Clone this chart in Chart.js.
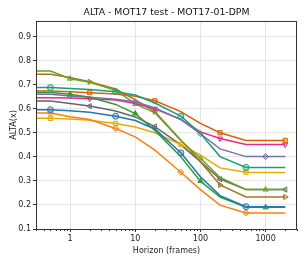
<!DOCTYPE html>
<html lang="en">
<head>
    <meta charset="UTF-8">
    <title>ALTA - MOT17 test - MOT17-01-DPM</title>
    <script src="https://cdn.jsdelivr.net/npm/chart.js"></script>
    <style>
        html, body { margin: 0; padding: 0; background: #fff; }
        #canvas { display: block; }
    </style>
</head>
<body>
<canvas id="canvas" width="305" height="261"></canvas>

<script>
    // horizons (frames); first point sits left of the visible range
    const horizons = [0.25, 0.5, 1, 2, 5, 10, 20, 50, 100, 200, 500, 1000, 2000];
    const xTicks = [1, 10, 100, 1000];
    const yTicks = [0.1, 0.2, 0.3, 0.4, 0.5, 0.6, 0.7, 0.8, 0.9];

    // series values
    const blue    = [0.596, 0.596, 0.592, 0.585, 0.569, 0.551, 0.516, 0.417, 0.317, 0.239, 0.193, 0.193, 0.193];
    const orange  = [0.582, 0.582, 0.567, 0.555, 0.518, 0.483, 0.428, 0.336, 0.264, 0.199, 0.167, 0.167, 0.167];
    const green   = [0.668, 0.668, 0.660, 0.648, 0.618, 0.580, 0.510, 0.400, 0.299, 0.233, 0.190, 0.190, 0.190];
    const teal    = [0.688, 0.688, 0.684, 0.680, 0.671, 0.657, 0.624, 0.569, 0.497, 0.401, 0.356, 0.356, 0.356];
    const rust    = [0.674, 0.674, 0.671, 0.667, 0.661, 0.652, 0.633, 0.588, 0.539, 0.500, 0.468, 0.468, 0.468];
    const purple  = [0.660, 0.660, 0.653, 0.648, 0.640, 0.629, 0.603, 0.555, 0.496, 0.433, 0.401, 0.401, 0.401];
    const magenta = [0.646, 0.646, 0.645, 0.642, 0.636, 0.622, 0.600, 0.556, 0.504, 0.476, 0.451, 0.451, 0.451];
    const lime    = [0.757, 0.757, 0.725, 0.710, 0.677, 0.620, 0.583, 0.468, 0.394, 0.314, 0.264, 0.264, 0.264];
    const brown   = [0.743, 0.743, 0.730, 0.712, 0.682, 0.637, 0.588, 0.470, 0.380, 0.283, 0.233, 0.233, 0.233];
    const gray    = [0.632, 0.632, 0.622, 0.611, 0.591, 0.566, 0.526, 0.450, 0.380, 0.307, 0.264, 0.264, 0.264];
    const gold    = [0.560, 0.560, 0.557, 0.552, 0.539, 0.524, 0.500, 0.451, 0.407, 0.354, 0.336, 0.335, 0.335];

    // which data indices carry a marker
    const marksA = [1, 4, 7, 10];
    const marksB = [2, 5, 8, 11];
    const marksC = [3, 6, 9, 12];

    const series = [
        { data: blue,    color: '#1f77b4', style: 'circle',   rot: 0,   marks: marksA },
        { data: orange,  color: '#ff7f0e', style: 'rectRot',  rot: 0,   marks: marksA },
        { data: green,   color: '#2ca02c', style: 'triangle', rot: 0,   marks: marksB, solid: true },
        { data: teal,    color: '#1b9e77', style: 'circle',   rot: 0,   marks: marksA },
        { data: rust,    color: '#d95f02', style: 'rect',     rot: 0,   marks: marksC },
        { data: purple,  color: '#7570b3', style: 'rectRot',  rot: 0,   marks: marksB },
        { data: magenta, color: '#e7298a', style: 'triangle', rot: 180, marks: marksC },
        { data: lime,    color: '#66a61e', style: 'triangle', rot: 0,   marks: marksB },
        { data: gold,    color: '#e6ab02', style: 'rect',     rot: 0,   marks: marksA },
        { data: brown,   color: '#a6761d', style: 'triangle', rot: 90,  marks: marksC },
        { data: gray,    color: '#666666', style: 'triangle', rot: -90, marks: marksC }
    ];

    function fade(hex, a) {
        const r = parseInt(hex.slice(1, 3), 16);
        const g = parseInt(hex.slice(3, 5), 16);
        const b = parseInt(hex.slice(5, 7), 16);
        return `rgba(${r}, ${g}, ${b}, ${a})`;
    }

    const datasets = series.map(s => ({
        data: horizons.map((x, i) => ({ x: x, y: s.data[i] })),
        borderColor: s.color,
        backgroundColor: s.solid ? s.color : fade(s.color, 0.3),
        borderWidth: 1.5,
        pointStyle: s.style,
        pointRotation: s.rot,
        pointRadius: ctx => s.marks.includes(ctx.dataIndex) ? 3 : 0,
        pointBorderColor: s.color,
        pointBorderWidth: 1,
        tension: 0,
        fill: false
    }));

    // frame round the plot area plus minor ticks on the log axis
    const framePlugin = {
        id: 'frame',
        afterDraw(chart) {
            const { ctx, chartArea: a, scales } = chart;
            ctx.save();
            ctx.strokeStyle = '#333';
            ctx.lineWidth = 1;
            ctx.strokeRect(a.left + 0.5, a.top + 0.5, a.right - a.left - 1, a.bottom - a.top);
            const x = scales.x;
            ctx.beginPath();
            for (let d = 0.1; d < 5000; d *= 10) {
                for (let k = 2; k <= 9; k++) {
                    const v = d * k;
                    if (v < x.min || v > x.max) continue;
                    const px = Math.round(x.getPixelForValue(v)) + 0.5;
                    ctx.moveTo(px, a.bottom);
                    ctx.lineTo(px, a.bottom + 2);
                }
            }
            ctx.stroke();
            ctx.restore();
        }
    };

    Chart.defaults.font.family = '"DejaVu Sans", sans-serif';
    Chart.defaults.color = '#222';

    new Chart(document.getElementById('canvas').getContext('2d'), {
        type: 'line',
        data: { datasets: datasets },
        options: {
            responsive: false,
            animation: false,
            layout: { padding: { left: 0, right: 8, top: 0, bottom: 0 } },
            plugins: {
                legend: { display: false },
                tooltip: { enabled: false },
                title: {
                    display: true,
                    fullSize: false,
                    text: 'ALTA - MOT17 test - MOT17-01-DPM',
                    font: { size: 9.3, weight: 'normal' },
                    color: '#111',
                    padding: { top: 7, bottom: 2.8 }
                }
            },
            scales: {
                x: {
                    type: 'logarithmic',
                    min: 0.33,
                    max: 3030,
                    afterBuildTicks: scale => { scale.ticks = xTicks.map(v => ({ value: v, major: true })); },
                    afterFit: scale => { scale.height = 32; },
                    ticks: {
                        font: { size: 8 },
                        color: '#222',
                        padding: 2,
                        maxRotation: 0,
                        autoSkip: false,
                        callback: v => String(v)
                    },
                    grid: { color: '#e6e6e6', tickColor: '#333', tickLength: 3 },
                    border: { display: false },
                    title: {
                        display: true,
                        text: 'Horizon (frames)',
                        font: { size: 8 },
                        color: '#222',
                        padding: { top: 1, bottom: 5 }
                    }
                },
                y: {
                    type: 'linear',
                    min: 0.1,
                    max: 0.965,
                    afterBuildTicks: scale => { scale.ticks = yTicks.map(v => ({ value: v })); },
                    afterFit: scale => { scale.width = 36; },
                    ticks: {
                        font: { size: 8 },
                        color: '#222',
                        padding: 2,
                        callback: v => v.toFixed(1)
                    },
                    grid: { color: '#e6e6e6', tickColor: '#333', tickLength: 3 },
                    border: { display: false },
                    title: {
                        display: true,
                        text: 'ALTA(x)',
                        font: { size: 8 },
                        color: '#222',
                        padding: { top: 9, bottom: 2 }
                    }
                }
            }
        },
        plugins: [framePlugin]
    });
</script>
</body>
</html>
